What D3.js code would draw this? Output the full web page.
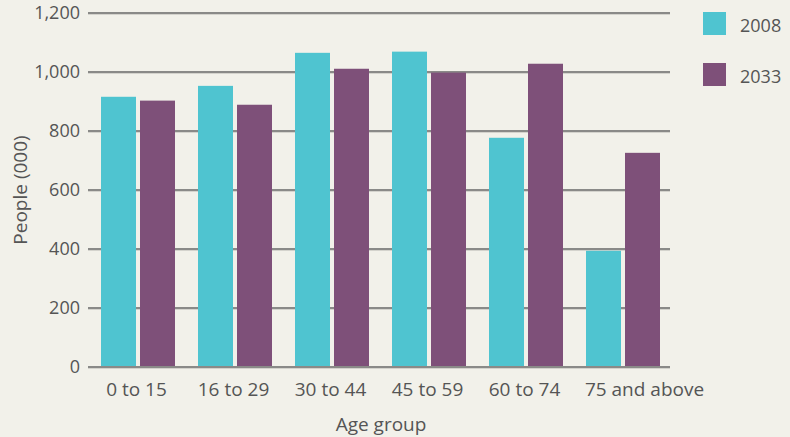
<!DOCTYPE html>
<html>
<head>
<meta charset="utf-8">
<script src="https://cdn.jsdelivr.net/npm/d3@7"></script>
<style>
  html, body { margin: 0; padding: 0; background: #f2f1ea; }
  svg { display: block; }
  text { font-family: "Open Sans", "Liberation Sans", sans-serif; fill: #555; }
</style>
</head>
<body>
<div class="visHolder"></div>
<script>
// Chart data
const categories = ["0 to 15", "16 to 29", "30 to 44", "45 to 59", "60 to 74", "75 and above"];
const seriesNames = ["2008", "2033"];
const values2008 = [916, 953, 1065, 1069, 777, 394];
const values2033 = [903, 889, 1011, 998, 1028, 726];
const yTicks = [0, 200, 400, 600, 800, 1000, 1200];
const colors = ["#4fc4d0", "#7e5079"];

const W = 790, H = 437;
const margin = {top: 13, left: 88},
    width = 670 - margin.left,
    height = 367 - margin.top;
const fontFam = "'Open Sans', 'Liberation Sans', sans-serif";

const svg = d3.select(".visHolder").append("svg")
    .attr("width", W)
    .attr("height", H);

const g = svg.append("g")
    .attr("transform", "translate(" + margin.left + "," + margin.top + ")");

// Scales
const x0 = d3.scaleBand().domain(categories).range([0, width]);
const x1 = d3.scaleBand().domain(seriesNames).range([13, 87]).paddingInner(0.1026);
const y = d3.scaleLinear().domain([0, 1200]).range([height, 0]);

// Gridlines (with a soft shadow line below each)
g.selectAll(".grid-shadow")
    .data(yTicks)
    .enter().append("line")
    .attr("x1", 0).attr("x2", width)
    .attr("y1", d => y(d) + 1.5).attr("y2", d => y(d) + 1.5)
    .attr("stroke", "#d4d3cd")
    .attr("stroke-width", 1);

g.selectAll(".grid")
    .data(yTicks)
    .enter().append("line")
    .attr("x1", 0).attr("x2", width)
    .attr("y1", d => y(d)).attr("y2", d => y(d))
    .attr("stroke", "#8a8a88")
    .attr("stroke-width", 2);

// Y axis labels
const yAxis = d3.axisLeft(y).tickValues(yTicks).tickSize(0).tickPadding(8)
    .tickFormat(d3.format(","));
g.append("g")
    .attr("id", "y-axis")
    .call(yAxis)
    .call(s => s.select(".domain").remove())
    .call(s => s.selectAll("text").attr("fill", "#555").style("font-size", "18px")
        .style("font-family", fontFam));

// Bars
const rows = categories.map((c, i) => ({cat: c, vals: [values2008[i], values2033[i]]}));
const groups = g.selectAll(".group")
    .data(rows)
    .enter().append("g")
    .attr("transform", d => "translate(" + x0(d.cat) + ",0)");

groups.selectAll("rect")
    .data(d => d.vals.map((v, j) => ({s: seriesNames[j], v: v, j: j})))
    .enter().append("rect")
    .attr("x", d => x1(d.s))
    .attr("width", x1.bandwidth())
    .attr("y", d => y(d.v))
    .attr("height", d => y(0) - y(d.v) - 1)
    .attr("fill", d => colors[d.j]);

// X axis labels (last one nudged right, as in the original)
const xAxis = d3.axisBottom(x0).tickSize(0).tickPadding(16);
g.append("g")
    .attr("id", "x-axis")
    .attr("transform", "translate(0," + height + ")")
    .call(xAxis)
    .call(s => s.select(".domain").remove())
    .call(s => s.selectAll("text").attr("fill", "#555").style("font-size", "19px")
        .style("font-family", fontFam)
        .attr("dx", (d, i) => i === categories.length - 1 ? 23 : 0));

// Axis titles
svg.append("text")
    .attr("x", 381)
    .attr("y", 431)
    .attr("text-anchor", "middle")
    .style("font-size", "19px")
    .text("Age group");

svg.append("text")
    .attr("transform", "translate(27,190) rotate(-90)")
    .attr("text-anchor", "middle")
    .style("font-size", "19px")
    .text("People (000)");

// Legend
const legend = svg.selectAll(".legend")
    .data(seriesNames)
    .enter().append("g")
    .attr("transform", (d, i) => "translate(703," + (12 + i * 51) + ")");

legend.append("rect")
    .attr("width", 23)
    .attr("height", 23)
    .attr("fill", (d, i) => colors[i]);

legend.append("text")
    .attr("x", 37)
    .attr("y", 20)
    .style("font-size", "18px")
    .text(d => d);
</script>
</body>
</html>
